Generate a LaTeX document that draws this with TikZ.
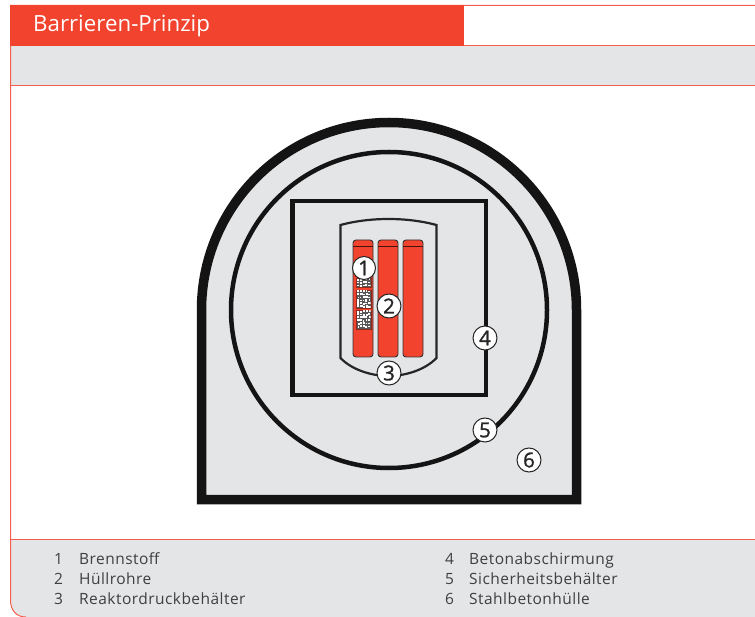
\documentclass[tikz,border=0pt]{standalone}
\usepackage{fontspec}
\setmainfont{Open Sans}
\newfontface\legendface{Open Sans}[LetterSpace=3]
\newfontface\markerface{Open Sans}[FakeBold=1.2]
\usepackage{tikz}
\usetikzlibrary{positioning,calc}
\definecolor{barrierred}{HTML}{F2432E}
\definecolor{bandgray}{HTML}{E4E5E7}
\definecolor{legendtext}{HTML}{3F3F41}

\begin{document}
\begin{tikzpicture}[
    x=1pt, y=-1pt,
    band/.style={fill=bandgray, draw=none},
    redline/.style={draw=barrierred!85, line width=1pt},
    wall/.style={draw=black!92, fill=bandgray, line width=4.5pt},
    rod/.style={draw=black!80, fill=barrierred, line width=0.9pt, rounded corners=3pt},
    pellet/.style={fill=black!65, draw=barrierred!60!black, line width=0.6pt},
    marker/.style={circle, draw=black!85, fill=white, line width=1pt, inner sep=0pt, minimum size=24pt, font=\markerface\fontsize{20.5}{20}\selectfont, text=black!85},
    legnum/.style={anchor=base, inner sep=0pt, font=\legendface\fontsize{15.5}{16}\selectfont, text=legendtext},
    legitem/.style={anchor=base west, inner sep=0pt, font=\legendface\fontsize{15.5}{16}\selectfont, text=legendtext}
  ]
  \useasboundingbox (0,0) rectangle (755,617);
  \fill[white] (0,0) rectangle (755,617);

  % header and footer
  \fill[band] (10.5,46) rectangle (755,85.5);
  \fill[band] (10.5,539.5) -- (755,539.5) -- (755,617) -- (26,617) .. controls (16,617) and (10.5,610) .. (10.5,600) -- cycle;
  \draw[redline] (755,5.5) -- (10.5,5.5) -- (10.5,600) .. controls (10.5,610) and (16,617) .. (26,617);
  \draw[redline] (464,45.5) -- (755,45.5);
  \draw[redline] (10.5,85.5) -- (755,85.5);
  \draw[redline] (10.5,539.5) -- (755,539.5);
  \fill[barrierred] (10,5) rectangle (464,46);
  \node[anchor=base west, inner sep=0pt, text=white, font=\fontsize{22.3}{23}\selectfont] (title) at (33,32) {Barrieren-Prinzip};

  % concrete hull, containment, shielding
  \draw[wall, line width=9.5pt, miter limit=10] (201.5,310) arc[start angle=180, end angle=0, radius=187.5pt] -- (576.5,499.5) -- (201.5,499.5) -- cycle;
  \draw[wall] (389,310) circle[radius=158];
  \draw[wall] (292.5,201) rectangle (486,395);

  % pressure vessel
  \draw[draw=black!85, fill=bandgray, line width=2.2pt] (340.5,225) .. controls (370,217) and (407,217) .. (436.5,225) -- (436.5,358) .. controls (425,370) and (405,376) .. (388.5,376) .. controls (372,376) and (352,370) .. (340.5,358) -- cycle;

  % rods
  \foreach \rodx in {353,378,403} {
    \draw[rod] (\rodx,240) rectangle ++(20,117);
    \draw[black!70!barrierred, line width=0.9pt] (\rodx,246) -- ++(20,0);
  }

  % fuel pellets
  \pgfmathsetseed{11}
  \foreach \pely/\pelh in {278/9,290/18,310/19} {
    \draw[pellet] (356.5,\pely) rectangle ++(14.5,\pelh);
    \begin{scope}
      \clip (357,\pely+0.5) rectangle ++(13.5,\pelh-1);
      \pgfmathtruncatemacro{\rows}{\pelh/3}
      \foreach \i in {0,...,4} {
        \foreach \j in {1,...,\rows} {
          \pgfmathsetmacro{\dx}{rnd*0.7}
          \pgfmathsetmacro{\dy}{rnd*0.6}
          \pgfmathsetmacro{\bw}{1.4+rnd*1}
          \pgfmathsetmacro{\bh}{1.3+rnd*1}
          \fill[white] (357+\i*2.75+\dx,\pely+\j*3-2.8+\dy) rectangle ++(\bw,\bh);
        }
      }
    \end{scope}
  }

  % numbered markers
  \node[marker, minimum size=23pt] (m1) at (364,268) {1};
  \node[marker] (m2) at (389,306) {2};
  \node[marker] (m3) at (389,373) {3};
  \node[marker] (m4) at (485,338) {4};
  \node[marker] (m5) at (485,430) {5};
  \node[marker] (m6) at (529,460) {6};

  % legend
  \foreach \legy/\legn/\legt in {564/1/Brennstoff,584/2/Hüllrohre,604/3/Reaktordruckbehälter} {
    \node[legnum] (n\legn) at (58.5,\legy) {\legn};
    \node[legitem] (t\legn) at (79,\legy) {\legt};
  }
  \foreach \legy/\legn/\legt in {564/4/Betonabschirmung,584/5/Sicherheitsbehälter,604/6/Stahlbetonhülle} {
    \node[legnum] (n\legn) at (449.5,\legy) {\legn};
    \node[legitem] (t\legn) at (469,\legy) {\legt};
  }
\end{tikzpicture}
\end{document}
